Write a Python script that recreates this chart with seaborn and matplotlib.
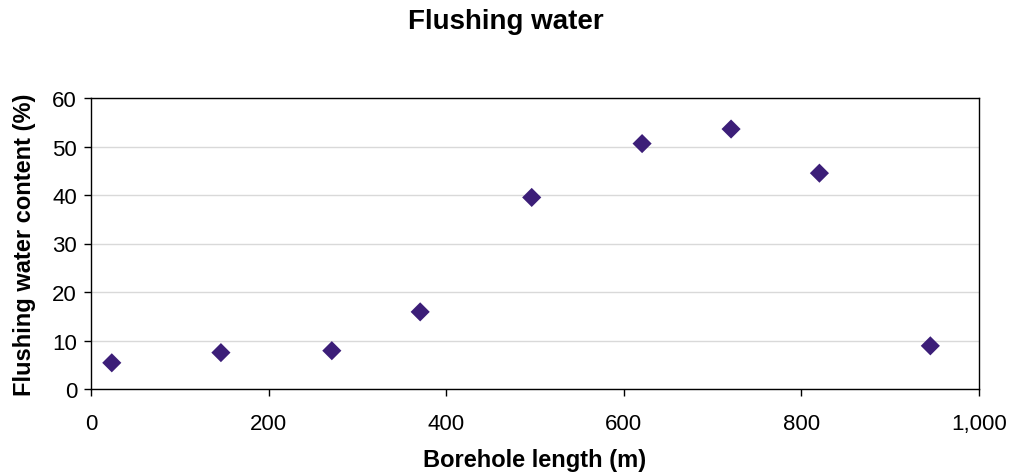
import matplotlib
matplotlib.use("Agg")
import matplotlib.pyplot as plt
import seaborn as sns
import pandas as pd
from matplotlib.ticker import FuncFormatter, MultipleLocator

borehole_length = [23.4, 146.3, 271.2, 370.7, 496.3, 620.6, 720.8, 820.3, 945.2]
flushing_water = [5.4, 7.5, 7.9, 15.9, 39.5, 50.6, 53.6, 44.5, 8.9]

title = "Flushing water"
xlabel = "Borehole length (m)"
ylabel = "Flushing water content (%)"

df = pd.DataFrame({"x": borehole_length, "y": flushing_water})

sns.set_style("white")
plt.rcParams["font.family"] = ["Liberation Sans", "DejaVu Sans"]
plt.rcParams["text.color"] = "black"
plt.rcParams["axes.labelcolor"] = "black"

fig = plt.figure(figsize=(10.12, 4.77), dpi=100)
ax = fig.add_axes([91 / 1012, 1 - 390 / 477, 888 / 1012, 291 / 477])

sns.scatterplot(data=df, x="x", y="y", ax=ax, marker="D", s=95,
                color="#3C1E78", edgecolor="none", linewidth=0, zorder=3)

ax.set_xlim(0, 1000)
ax.set_ylim(0, 60)
ax.xaxis.set_major_locator(MultipleLocator(200))
ax.yaxis.set_major_locator(MultipleLocator(10))
ax.xaxis.set_major_formatter(FuncFormatter(lambda v, p: f"{int(v):,}"))

ax.grid(axis="y", color="#d9d9d9", linewidth=1.0)
ax.grid(axis="x", visible=False)
ax.set_axisbelow(True)

for s in ax.spines.values():
    s.set_visible(True)
    s.set_color("black")
    s.set_linewidth(1.0)

ax.tick_params(axis="both", direction="out", length=5, width=1, colors="black",
               labelsize=16, bottom=True, left=True)
ax.tick_params(axis="x", pad=12)
ax.tick_params(axis="y", pad=5)

ax.set_xlabel(xlabel, fontsize=17, fontweight="bold", labelpad=10)
ax.set_ylabel(ylabel, fontsize=17, fontweight="bold", labelpad=12)
fig.suptitle(title, fontsize=20, fontweight="bold", y=1 - 22 / 477, va="center")

fig.savefig("out.png", dpi=100)
